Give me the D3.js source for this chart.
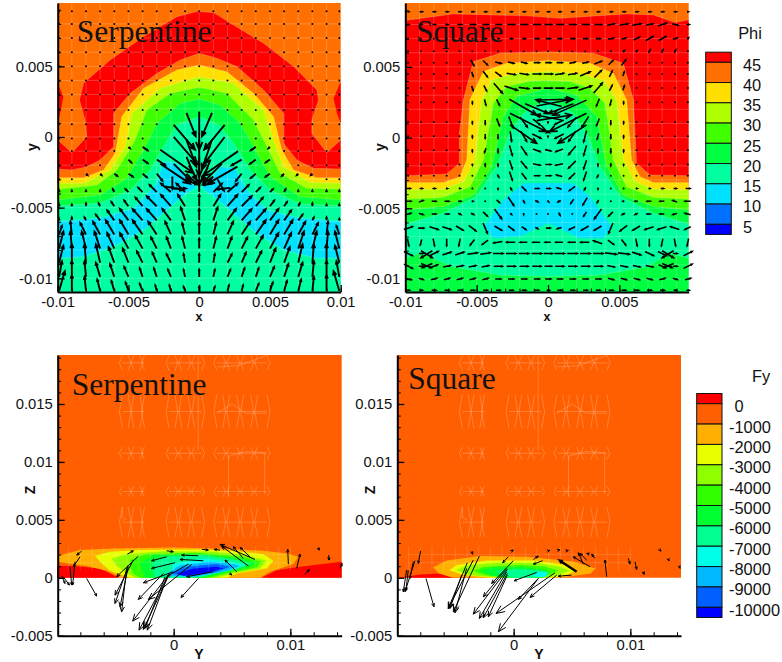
<!DOCTYPE html>
<html>
<head>
<meta charset="utf-8">
<script src="https://cdn.jsdelivr.net/npm/d3@7"></script>
<style>
  html, body { margin: 0; padding: 0; background: #fff; }
  svg { display: block; }
  text { font-family: "Liberation Sans", Arial, sans-serif; fill: #111; }
  .tick text { font-size: 14.8px; font-family: "Liberation Sans", Arial, sans-serif; fill: #111; }
  .serif { font-family: "Liberation Serif", "Times New Roman", serif; font-size: 31.5px; fill: #111; }
  .axlabel { font-size: 14px; font-weight: bold; text-anchor: middle; }
  .axlabel.low { font-size: 12.5px; }
</style>
</head>
<body>
<svg id="canvas"></svg>
<script>
// all contour and vector coordinates are in mm, the axes are in metres
const phiColors = ["#ff0000", "#ff7000", "#ffdf00", "#afff00", "#3fff00", "#00ff40", "#00ffa0", "#00e0ff", "#0070ff", "#0000ff"];
const phiLevels = [45, 40, 35, 30, 25, 20, 15, 10, 5];
const phiEdges = [47.5, 45, 40, 35, 30, 25, 20, 15, 10, 5, 2.5];
const fyColors = ["#ff0000", "#ff5f00", "#ffaf00", "#e8ff00", "#8fff00", "#30ff00", "#00ff30", "#00ff90", "#00ffe8", "#00b8ff", "#0060ff", "#0000ff"];
const fyLevels = [0, -1000, -2000, -3000, -4000, -5000, -6000, -7000, -8000, -9000, -10000];
const fyEdges = [500, 0, -1000, -2000, -3000, -4000, -5000, -6000, -7000, -8000, -9000, -10000, -10500];

const topTicksY = [-0.01, -0.005, 0, 0.005];
const topTicksX1 = [-0.01, -0.005, 0, 0.005, 0.01];
const topTicksX2 = [-0.01, -0.005, 0, 0.005];
const botTicksY = [-0.005, 0, 0.005, 0.01, 0.015];
const botTicksX = [0, 0.01];

// Phi contours, serpentine. Each line is the upper edge of a level, filled down to the floor
const serpRedPatchL = [[-10, 3.8], [-9.6, 2.85], [-9.82, 1.67], [-10, 0.97]];
const serpRedPatchR = [[10, 3.9], [9.5, 2.74], [9.73, 1.67], [10, 0.97]];
const serpRed = [[-10, -0.21], [-9, -1.11], [-7.94, 0.02], [-8.06, 1.2], [-8.46, 2.62], [-8.17, 3.8], [-6.29, 5.45], [-3.93, 7.1], [-1.58, 8.51], [-0.16, 8.87], [1.01, 8.8], [2.43, 7.92], [4.55, 6.63], [6.67, 4.98], [8.32, 3.33], [8.43, 2.62], [7.96, 1.2], [7.96, 0.26], [9.02, -1.11], [10, -0.21]];
const serpOrange = [[-10, -2.26], [-9, -2.33], [-7.94, -2.1], [-7, -1.63], [-6.05, -0.68], [-6.05, 1.67], [-4.88, 3.09], [-2.99, 4.5], [-1.34, 5.45], [0, 5.92], [1.25, 5.57], [2.66, 4.98], [4.55, 3.33], [5.96, 1.67], [5.96, -0.45], [6.9, -1.63], [8.08, -2.22], [10, -2.26]];
const serpYellow = [[-10, -2.88], [-8.17, -2.88], [-6.76, -2.33], [-5.94, -1.16], [-5.47, 1.44], [-3.93, 3.44], [-1.58, 4.74], [0, 5.09], [1.96, 4.62], [3.84, 3.09], [5.25, 1.44], [5.84, -0.92], [6.67, -2.33], [8.32, -2.88], [10, -2.88]];
const serpLime = [[-10, -3.28], [-8.17, -3.28], [-6.29, -2.33], [-5.23, -0.68], [-4.76, 1.67], [-2.76, 3.44], [0, 4.27], [2.43, 3.8], [4.55, 1.91], [5.25, -0.21], [5.96, -2.1], [7.84, -3.23], [10, -3.28]];
const serpBright = [[-10, -3.7], [-7.23, -3.4], [-5.82, -2.33], [-4.64, -0.45], [-3.7, 1.91], [-2.05, 3.09], [0, 3.51], [1.96, 3.09], [3.84, 1.2], [4.78, -0.68], [5.72, -2.57], [7.61, -3.63], [10, -3.7]];
const serpGreen = [[-10, -4.46], [-7, -4.1], [-5.11, -2.92], [-3.93, -0.92], [-2.99, 0.97], [-1.34, 2.38], [0, 2.69], [1.48, 2.26], [2.9, 0.97], [3.84, -0.68], [5.02, -2.81], [7.14, -4.22], [10, -4.46]];
const serpSpring = [[-10, -4.88], [-7, -4.69], [-4.88, -3.75], [-3.46, -2.33], [-2.52, -0.68], [-1.58, 0.85], [0, 1.44], [1.37, 0.85], [2.43, -0.45], [3.6, -2.33], [5.02, -3.75], [7.14, -4.74], [10, -4.88]];
const serpCyan = [[-10, -5.99], [-7, -5.75], [-4.64, -5.05], [-2.99, -3.28], [-2.57, -1.75], [-1.58, -1.86], [-0.52, -3.28], [0, -3.75], [0.66, -3.16], [1.48, -2.1], [2.54, -2.22], [3.37, -3.75], [4.78, -5.17], [7.14, -5.75], [10, -5.99]];
const serpSpringLow = [[-10, -8.58], [-8.17, -8.47], [-5.82, -7.64], [-3.93, -6.58], [-2.29, -5.17], [-0.87, -3.99], [0, -3.47], [1.01, -4.22], [2.43, -5.4], [4.08, -6.82], [5.96, -8], [8.32, -8.58], [10, -8.58]];

// Phi contours, square
const squareRed = [[-10, 8.28], [-6.64, 8.75], [-1.5, 8.61], [0.84, 8.44], [5.51, 8.75], [7.38, 8.68], [8.9, 8.14], [9.86, 8.33]];
const squareOrange = [[-10, -2.69], [-7.1, -2.57], [-6.21, -1.82], [-6.21, 0.31], [-5.93, 2.67], [-5.23, 5.38], [-3.36, 5.97], [0, 6.08], [3.18, 5.97], [5.28, 5.26], [5.98, 2.67], [6.21, -1.82], [7.15, -2.64], [9.86, -2.69]];
const squareYellow = [[-10, -3.18], [-7.34, -3.18], [-6.17, -2.76], [-5.7, -1.58], [-5.47, 2.67], [-4.53, 4.67], [-2.9, 5.26], [0, 5.45], [2.94, 5.26], [4.58, 4.55], [5.51, 2.67], [5.86, -1.58], [6.45, -2.76], [7.38, -3.18], [9.86, -3.18]];
const squareLime = [[-10, -3.7], [-7.34, -3.66], [-5.93, -3.11], [-5.12, -1.58], [-4.65, 2.67], [-3.95, 4.08], [-2.2, 4.55], [0, 4.67], [2.24, 4.5], [3.88, 4.08], [4.81, 2.67], [5.28, -1.58], [6.1, -3.11], [7.38, -3.66], [9.86, -3.7]];
const squareBright = [[-10, -4.36], [-7.34, -4.22], [-5.47, -3.47], [-4.53, -1.58], [-3.83, 2.43], [-2.9, 3.61], [-1.26, 4.01], [0, 4.03], [1.54, 3.96], [2.94, 3.49], [4, 2.43], [4.58, -1.58], [5.51, -3.47], [7.38, -4.22], [9.86, -4.36]];
const squareGreen = [[-10, -5.12], [-7.34, -4.88], [-5.23, -4.06], [-3.95, -2.05], [-3.13, 1.49], [-2.2, 2.9], [0, 3.49], [2.01, 3.02], [3.41, 1.49], [4.11, -2.05], [5.28, -4.06], [7.38, -4.88], [9.86, -5.12]];
const squareSpring = [[-10, -6.11], [-7.34, -5.35], [-5, -4.17], [-3.6, -2.05], [-2.66, 0.31], [-1.73, 1.72], [0, 2.78], [1.78, 1.72], [2.71, 0.31], [3.64, -2.05], [5.05, -4.17], [7.38, -5.35], [9.86, -6.11]];
const squareCyan = [[-1.73, -3.23], [1.78, -3.23], [2.94, -4.17], [4.46, -6.3], [3.88, -7.12], [2.24, -7.12], [0, -6.06], [-1.96, -7], [-3.83, -7.12], [-4.49, -6.3], [-3.13, -4.41]];
const squareGreenLow = [[-10, -8.54], [-8.97, -8.18], [-6.64, -9.13], [-3.36, -9.72], [0, -9.83], [3.64, -9.72], [6.92, -9.13], [8.55, -8.18], [9.86, -8.54]];

// Fy contours, closed outlines
const fySerpRedL = [[-10, 1.01], [-8.6, 1.01], [-6.31, 0.81], [-4.74, 0], [-10, 0]];
const fySerpRedR = [[7.54, 0], [8.83, 0.66], [10.83, 0.95], [14.4, 1.38], [14.4, 0]];
const fySerpAmber = [[-10, 1.87], [-8.03, 2.39], [-5.17, 2.53], [0, 2.62], [4.83, 2.48], [7.69, 2.33], [9.69, 2.1], [10.69, 1.81], [10.26, 1.18], [8.26, 0.52], [7.4, 0], [-4.46, 0], [-5.74, 0.6], [-7.46, 1.01], [-10, 1.38]];
const fySerpYellow = [[-6.74, 1.87], [-5.46, 2.25], [-2.89, 2.39], [1.97, 2.45], [5.4, 2.3], [7.69, 2.04], [8.54, 1.47], [7.97, 0.81], [5.4, 0.37], [4.54, 0], [-3.74, 0], [-5.46, 0.6], [-6.17, 1.24]];
const fySerpLime = [[-5.31, 1.67], [-4.03, 2.04], [-0.89, 2.3], [3.4, 2.25], [6.26, 1.96], [7.97, 1.47], [7.4, 0.81], [5.11, 0.37], [3.69, 0], [-3.31, 0], [-4.17, 0.52], [-4.89, 1.01]];
const fySerpBright = [[-3.74, 1.53], [-2.31, 2.04], [1.97, 2.16], [5.97, 1.81], [7.54, 1.38], [7.11, 0.89], [4.83, 0.46], [3.11, 0], [-2.89, 0], [-3.46, 0.37], [-3.74, 0.95]];
const fySerpGreen = [[-2.89, 1.24], [-1.74, 1.96], [1.97, 2.04], [5.69, 1.67], [7.11, 1.3], [6.26, 0.81], [4.54, 0.52], [2.54, 0], [-2.46, 0]];
const fySerpSpring = [[-1.89, 1.24], [-0.89, 1.81], [2.54, 1.96], [5.4, 1.53], [6.54, 1.24], [5.4, 0.72], [3.11, 0.37], [1.69, 0], [-1.6, 0]];
const fySerpCyan = [[-0.03, 1.24], [2.54, 1.67], [4.83, 1.38], [6.11, 1.09], [4.83, 0.66], [2.26, 0.09], [-0.31, 0.09]];
const fySerpAzure = [[-0.6, 0.37], [0.54, 1.09], [3.11, 1.38], [5.11, 1.18], [5.69, 1.01], [4.54, 0.6], [1.97, 0.09], [-0.17, 0.14]];
const fySerpBlue = [[-0.31, 0.37], [1.11, 0.95], [3.69, 1.18], [4.83, 0.95], [3.69, 0.52], [1.11, 0.14]];
const fySerpDark = [[0.26, 0.37], [1.69, 0.81], [3.69, 0.95], [4.26, 0.81], [2.54, 0.37], [0.83, 0.17]];

const fySqRed = [[-10, 0], [-8, 0.29], [-6.3, 0.37], [-4.9, 0.14], [-3.2, 0]];
const fySqAmber = [[-6.9, 0.9], [-5.7, 1.5], [-2.9, 1.87], [1.1, 1.81], [5.1, 1.4], [7, 0.81], [6.6, 0.37], [4, 0], [-5.2, 0], [-6.4, 0.37]];
const fySqYellow = [[-5.5, 0.66], [-4.9, 1.1], [-2.3, 1.5], [1.7, 1.5], [4.5, 1.1], [5.4, 0.66], [4.5, 0.23], [3.4, 0], [-2, 0], [-4.3, 0.23]];
const fySqLime = [[-4.9, 0.66], [-4, 1.05], [-1.5, 1.3], [2, 1.3], [4, 0.95], [4.8, 0.6], [3.8, 0.25], [3, 0], [-1.2, 0], [-3.8, 0.25]];
const fySqBright = [[-3.5, 0.6], [-2.5, 0.95], [0.5, 1.1], [2.5, 1], [3.8, 0.65], [3, 0.25], [2.4, 0], [-0.5, 0], [-2.5, 0.25]];
const fySqGreen = [[-2.9, 0.63], [-1.7, 0.9], [1, 0.9], [3, 0.65], [2.4, 0.25], [2, 0], [-0.3, 0], [-2, 0.2]];
const fySqSpring = [[-1.5, 0.6], [0.3, 0.75], [2, 0.65], [2.8, 0.5], [2.2, 0.1], [1.5, 0], [0, 0], [-1, 0.2]];
const fySqCyan = [[1.6, 0.2], [2.2, 0.55], [3, 0.45], [2.8, 0.1], [2.2, 0.02]];

// faint mesh lines showing through the fills
const meshTopX = [-9, -8, -7, -6, -5, -4, -3, -2, -1, 0, 1, 2, 3, 4, 5, 6, 7, 8, 9];
const meshTopY = [8, 7, 6, 5, 4, 3, 2, 1, 0, -1, -2, -3, -4, -5, -6, -7, -8, -9, -10];
const meshBlocksX = [[-4.4, -3.9, -3.4, -2.9, -2.5], [-0.4, 0.1, 0.7, 1.2, 1.8, 2.4], [3.7, 4.2, 4.8, 5.4, 6, 6.6, 7.2, 8]];
const meshBlocksZ = [[17.9, 19.2], [12.9, 15.8], [10.2, 11.3], [7, 7.9], [3.5, 6.1]];
const meshBandX = [-9, -8, -7, -6, -5, -4, -3, -2, -1, 0, 1, 2, 3, 4, 5, 6, 7, 8, 9, 10];
const meshExtra = [
  [[2.1, 19.2], [2.1, 11]], [[4.7, 10.5], [4.7, 7]], [[7.8, 10.8], [7.8, 7.2]], [[4.7, 10.5], [6.2, 10.9], [7.8, 10.8]],
  [[3.7, 18.2], [5.5, 18.3], [8, 19.2]], [[3.7, 14.2], [5, 15], [6.2, 14.2], [8, 14.2]], [[-4.4, 6.1], [-4.4, 5.2], [-4, 5]]
];

// serpentine vectors
const serpCols = [-9.9, -9, -8, -7, -6, -5, -4, -3, -2, -1, 0, 1, 2, 3, 4, 5, 6, 7, 8, 9, 9.9];
const serpDots = [
  [8.9, serpCols], [8, serpCols], [7, serpCols], [6, serpCols], [5, serpCols], [4, serpCols], [3, serpCols],
  [1.9, [-9.9, -9, -8, -7, -6, -5, -4, -3, -2, 2, 3, 4, 5, 6, 7, 8, 9, 9.9]],
  [0.9, [-9.9, -9, -8, -7, -6, -5, -4, -3, 3, 4, 5, 6, 7, 8, 9, 9.9]],
  [-0.1, [-9.9, -9, -8, -7, -6, -5, -4, 4, 5, 6, 7, 8, 9, 9.9]],
  [-1, [-9.9, -9, -8, -7, -6, 6, 7, 8, 9, 9.9]],
  [-2, [-9.9, -9, -8, -7, 7, 8, 9, 9.9]],
  [-3, [-9.9, -9, 9, 9.9]]
];
// [y, per column dx, dy in tenths of a mm]
const serpRows = [
  [-10.9, [[4,14],[0,11],[-1,10],[-2,8],[-2,7],[-2,6],[-2,5],[-1,4],[-1,4],[-1,3],[0,3],[1,3],[1,4],[1,4],[2,5],[2,6],[2,7],[2,8],[1,10],[0,11],[-4,14]]],
  [-9.9, [[2,11],[0,11],[-1,11],[-3,10],[-3,9],[-3,7],[-2,6],[-2,6],[-2,5],[-1,5],[0,5],[1,5],[2,5],[2,6],[2,6],[3,7],[3,9],[3,10],[1,11],[0,11],[-2,11]]],
  [-8.9, [[3,12],[0,13],[-1,13],[-3,13],[-4,11],[-4,10],[-4,8],[-3,7],[-3,6],[-1,6],[0,6],[1,6],[3,6],[3,7],[4,8],[4,10],[4,11],[3,13],[1,13],[0,13],[-3,12]]],
  [-7.9, [[3,12],[-1,12],[-3,12],[-4,12],[-5,11],[-6,11],[-5,9],[-4,8],[-3,8],[-2,8],[0,7],[2,8],[3,8],[4,8],[5,9],[6,11],[5,11],[4,12],[3,12],[1,12],[-3,12]]],
  [-6.9, [[2,6],[-1,9],[-4,8],[-5,9],[-6,10],[-6,10],[-7,10],[-6,9],[-4,9],[-2,8],[0,8],[2,8],[4,9],[6,9],[7,10],[6,10],[6,10],[5,9],[4,8],[1,9],[-2,6]]],
  [-5.9, [[0,1],[0,2],[-1,2],[-3,4],[-5,7],[-6,8],[-7,8],[-7,8],[-6,8],[-3,9],[0,8],[3,9],[6,8],[7,8],[7,8],[6,8],[5,7],[3,4],[1,2],[0,2],[0,1]]],
  [-4.9, [[0,1],[0,1],[0,2],[-1,2],[-2,3],[-3,4],[-5,6],[-7,7],[-7,8],[-5,8],[0,8],[5,8],[7,8],[7,7],[5,6],[3,4],[2,3],[1,2],[0,2],[0,1],[0,1]]],
  [-3.9, [[0,1],[0,1],[0,1],[0,1],[-1,2],[-2,2],[-3,3],[-5,5],[-7,6],[-6,6],[0,5],[6,6],[7,6],[5,5],[3,3],[2,2],[1,2],[0,1],[0,1],[0,1],[0,1]]]
];
// [x, y, dx, dy] in mm
const serpShort = [
  [-5, -0.7, 0.1, -0.1], [-4, -0.7, 0.35, -0.25], [4, -0.7, -0.35, -0.25], [5, -0.7, -0.1, -0.1],
  [-5, -1.6, 0.2, -0.2], [-4, -1.6, 0.35, -0.25], [-3, -1.6, 0.6, -0.4], [3, -1.6, -0.7, -0.4], [4, -1.6, -0.4, -0.3], [5, -1.6, -0.3, -0.2],
  [-8, -2.6, 0.1, -0.1], [-7, -2.6, 0.1, -0.1], [-6, -2.6, 0.2, -0.15], [-5, -2.6, 0.3, -0.2], [-4, -2.6, 0.3, -0.25], [-3, -2.6, 0.4, -0.5],
  [3, -2.6, -0.4, -0.5], [4, -2.6, -0.35, -0.3], [5, -2.6, -0.3, -0.2], [6, -2.6, -0.15, -0.15], [7, -2.6, -0.1, -0.1], [8, -2.6, -0.1, -0.1]
];
const serpLong = [
  [-0.9, 1.7, 0.65, -1.65], [0, 1.8, 0, -2.7], [0.9, 1.7, -0.7, -1.65], [-1.8, 0.85, 1.5, -1.75], [1.8, 0.85, -1.45, -1.75],
  [-2.75, -0.9, 2.35, -1.65], [-1.8, 0, 1.65, -1.9], [-0.9, -0.2, 0.7, -1.9], [0, -0.2, 0, -2.6], [0.9, -0.2, -0.7, -2.1], [1.8, 0, -1.45, -1.9], [2.75, -1, -2.5, -1.75],
  [-2.75, -1.9, 2.1, -1.4], [-1.8, -1.9, 1.2, -1.2], [-0.9, -1.4, 0.7, -1.65], [0, -1.4, 0, -2], [0.8, -1.6, -0.6, -1.5], [1.6, -1.9, -1.3, -1.3], [2.7, -2.1, -2.1, -1.2],
  [-1.9, -2.8, 0, -0.85], [-1.9, -3.65, 0.95, 0], [-2.4, -3.5, 1.25, -0.25], [2.2, -3.6, -0.95, -0.1], [1.3, -3, 0.45, -0.8],
  [-0.9, -2.6, 0.7, -0.7], [1, -2.8, -0.7, -0.5], [-1.1, -3, 0.95, -0.35], [1, -3.3, -0.7, -0.1]
];

// square vectors, drawn centred on the grid point
const squareCols = [-9.8, -8.9, -8, -7.1, -6.2, -5.3, -4.4, -3.5, -2.6, -1.7, -0.8, 0, 0.8, 1.7, 2.6, 3.5, 4.4, 5.3, 6.2, 7.1, 8, 8.9, 9.8];
const squareRows = [
  [8.9, [[1,0],[2,0],[2,0],[2,0],[2,0],[2,0],[2,0],[2,0],[2,0],[2,0],[2,0],[2,0],[2,0],[2,0],[2,0],[2,0],[2,0],[2,0],[2,0],[2,0],[2,0],[2,0],[1,0]]],
  [8, [[1,0],[1,0],[2,0],[2,0],[3,0],[4,0],[4,0],[4,0],[5,0],[5,0],[5,0],[5,0],[5,0],[5,0],[5,0],[5,0],[5,1],[6,1],[6,1],[5,1],[6,2],[4,-1],[2,0]]],
  [7, [[0,0],[0,0],[0,0],[0,0],[0,0],[0,0],[1,0],[1,0],[2,0],[2,0],[3,0],[3,0],[3,0],[3,0],[3,0],[3,0],[4,1],[3,1],[4,2],[5,3],[5,3],[3,1],[1,1]]],
  [6.1, [[0,0],[0,0],[0,0],[0,0],[0,0],[0,0],[0,0],[0,0],[0,0],[0,0],[0,0],[0,0],[0,0],[0,0],[0,0],[0,0],[0,0],[1,1],[1,1],[1,2],[1,2],[1,2],[0,0]]],
  [5.3, [[0,0],[0,0],[0,0],[0,0],[0,0],[2,-4],[3,-3],[4,-1],[4,-1],[4,-1],[4,0],[4,0],[4,0],[4,1],[4,1],[5,2],[3,3],[3,4],[0,0],[0,0],[0,0],[0,0],[0,0]]],
  [4.5, [[0,0],[0,0],[0,0],[0,0],[0,0],[1,-3],[3,-4],[4,-3],[6,-1],[6,-1],[6,0],[6,0],[6,1],[6,1],[7,3],[5,5],[2,4],[1,3],[0,0],[0,0],[0,0],[0,0],[0,0]]],
  [3.5, [[0,0],[0,0],[0,0],[0,0],[0,0],[1,-3],[2,-4],[6,-7],[9,-3],[7,-1],[5,0],[6,0],[6,0],[7,1],[9,3],[6,7],[2,4],[1,3],[0,0],[0,0],[0,0],[0,0],[0,0]]],
  [2.5, [[0,0],[0,0],[0,0],[0,0],[0,0],[0,-2],[1,-4],[2,-4],null,null,null,null,null,null,null,[-2,-5],[-1,-4],[0,-2],[0,0],[0,0],[0,0],[0,0],[0,0]]],
  [1.1, [[0,0],[0,0],[0,0],[0,0],[0,0],[0,-2],[0,-3],[2,-5],[3,-8],[5,-7],[5,-4],[0,-1],[-6,-3],[-6,-7],[-5,-8],[-2,-5],[0,-3],[0,-2],[0,0],[0,0],[0,0],[0,0],[0,0]]],
  [0.1, [[0,0],[0,0],[0,0],[0,0],[0,0],[0,-2],[0,-3],[0,-3],[1,-7],[4,-7],[6,-3],[0,-1],[-6,-3],[-5,-7],[-2,-8],[-1,-4],[0,-3],[0,-2],[0,0],[0,0],[0,0],[0,0],[0,0]]],
  [-0.9, [[0,0],[0,0],[0,0],[0,0],[0,0],[0,-2],[-1,-3],[0,-3],[2,-7],[4,-6],[5,-2],[4,-1],[-5,-2],[-5,-6],[-2,-7],[0,-3],[0,-3],[0,-2],[0,0],[0,0],[0,0],[0,0],[0,0]]],
  [-1.9, [[0,0],[0,0],[0,0],[0,0],[0,0],[0,-1],[0,-2],[0,-2],[2,-6],[4,-5],[5,-1],[4,0],[-5,-1],[-5,-5],[-2,-6],[0,-2],[0,-2],[0,-1],[0,0],[0,0],[0,0],[0,0],[0,0]]],
  [-2.7, [[0,0],[0,0],[0,0],[0,0],[0,0],[0,0],[0,0],[1,-2],[2,-6],[3,-4],[4,0],[4,0],[-4,1],[-4,-4],[-2,-6],[-1,-2],[0,0],[0,0],[0,0],[0,0],[0,0],[0,0],[0,0]]],
  [-3.6, [[3,0],[2,0],[2,0],[1,0],[1,0],[0,0],[0,0],[0,-1],[1,-2],[3,-3],[3,0],[3,0],[-3,1],[-4,-3],[-1,-2],[0,-1],[0,0],[0,0],[1,0],[1,0],[2,0],[2,0],[3,0]]],
  [-4.5, [[4,0],[3,1],[3,0],[3,0],[2,0],[1,0],[0,0],[2,-2],[4,-6],[1,-2],[2,-1],[1,-1],[-2,-1],[-2,-3],[-3,-5],[-1,-2],[0,0],[-1,0],[-2,0],[-3,0],[-3,0],[-3,1],[-4,0]]],
  [-5.4, [[4,1],[3,-1],[3,0],[3,0],[2,-1],[2,-1],[3,-3],[5,-7],[1,-1],[0,-1],[0,0],[0,0],[1,-2],[0,0],[-2,-3],[-5,-7],[-3,-3],[-2,-1],[-2,-1],[-3,0],[-3,0],[-3,-1],[-4,1]]],
  [-6.4, [[6,2],[4,0],[6,-2],[6,-2],[5,-3],[5,-4],[3,-7],[5,-3],[4,-3],[3,-2],[2,-1],[3,0],[-3,-1],[-4,-2],[-5,-3],[-5,-3],[-3,-7],[-5,-4],[-5,-3],[-6,-2],[-6,-2],[-6,2],[-4,-2]]],
  [-7.4, [[1,-5],[-1,-4],[1,-5],[0,-5],[-1,-5],[-3,-4],[-4,-3],[-6,-1],[-6,0],[-5,0],[-5,0],[-4,0],[-5,0],[-5,0],[-6,0],[-6,2],[4,-3],[3,-4],[1,-5],[0,-5],[-1,-5],[1,-5],[-1,-5]]],
  [-8.2, [[6,-3],[3,0],[6,3],[6,2],[6,2],[7,1],[7,1],[7,0],[7,0],[7,0],[7,0],[6,0],[7,0],[7,0],[7,0],[7,0],[8,-1],[8,-1],[6,-2],[6,-3],[6,-3],[3,0],[6,3]]],
  [-9.1, [[6,-3],[3,0],[5,2],[5,1],[5,1],[5,1],[5,1],[6,0],[6,0],[6,0],[6,0],[5,0],[6,0],[6,0],[6,0],[6,0],[5,-1],[5,-1],[5,-1],[5,-1],[5,-2],[3,0],[6,3]]],
  [-10, [[4,-1],[3,-1],[4,1],[4,1],[4,1],[4,1],[4,1],[4,0],[4,0],[4,0],[4,0],[4,0],[4,0],[4,0],[4,0],[4,0],[4,-1],[4,-1],[4,-1],[4,-1],[4,1],[3,-1],[4,1]]],
  [-10.8, [[2,0],[2,0],[3,0],[3,0],[3,0],[3,0],[3,0],[3,0],[3,0],[3,0],[3,0],[2,0],[3,0],[3,0],[3,0],[3,0],[3,0],[3,0],[3,0],[3,0],[3,0],[2,0],[2,0]]]
];
// tail x, tail y, dx, dy in mm
const squareLong = [
  [-2.71, 2.71, 1.92, -1.11], [2.7, 2.65, -2.36, -1.06], [-2.66, 1.72, 2.57, -1.3], [2.7, 1.72, -2.6, -1.3],
  [-0.84, 2.66, 2.6, 0.05], [-0.8, 2.24, 2.45, 0.47], [0.96, 2.2, -1.8, 0.47], [-0.8, 1.2, 2.45, 0.4], [0.96, 1.25, -1.8, 0.35],
  [-1.6, 2.4, 1.63, -0.7], [1.78, 2.4, -1.75, -0.7], [-2.66, 0.9, 1.87, -1.3], [2.7, 0.9, -2, -1.3],
  [-0.1, 0.5, 0.2, -0.15], [0.1, 0.5, -0.2, -0.15], [-8.9, -8, 0.8, -0.5], [-8.1, -8, -0.8, -0.5], [-8.9, -8.9, 0.7, -0.3], [-8.1, -8.9, -0.7, -0.3],
  [8, -8, 0.8, -0.5], [8.8, -8, -0.8, -0.5], [8, -8.9, 0.7, -0.3], [8.8, -8.9, -0.7, -0.3]
];

// Fy vectors: tail x, tail z, head x, head z, in mm
const fySerpVectors = [
  [-9.6,0.14,-9.31,-0.49],[-9.46,0.09,-8.94,-0.63],[-8.89,0.95,-8.74,-0.63],[-8.46,1.38,-8.66,-0.63],[-8.03,1.81,-8.6,0.95],[-7.89,2.3,-8.31,1.96],
  [-7.46,-0.06,-6.6,-1.58],[-3.03,1.87,-4.89,0.09],[-3.46,1.53,-5.03,-1.5],[-3.89,1.09,-5.03,-2.22],[-3.89,0.95,-4.6,-2.5],[-4.03,0.81,-4.46,-2.94],[-3.97,2.04,-3.46,2.33],
  [-0.03,0.52,-2.6,-0.43],[-0.89,0.37,-3.03,-1.87],[-0.46,0.23,-3.51,-3.74],[-0.46,0.23,-2.97,-4.52],[-0.46,0.14,-2.6,-4.46],[-0.54,0.09,-2.26,-4.52],[-0.74,0.09,-2.46,-4.37],
  [2.11,-0.06,0.63,-1.7],[1.54,1.15,-2.17,-1.87],[-0.6,1.81,-1.89,1.47],[2.11,1.9,0.69,1.96],[0.11,1.3,-1.89,0.81],[2.54,1.47,0.54,1.58],[1.26,1.18,-0.54,0.14],[3.4,0.52,1.11,0.09],
  [4.83,0.37,4.97,0.23],[2.43,2.45,2.97,2.39],[3.97,2.39,3.46,2.45],[-0.6,2.33,-0.03,2.25],[6.97,1.58,3.97,2.88],[6.4,1.01,4.11,2.73],[5.4,0.52,4.4,1.53],[5.97,1.67,5.11,2.68],[6.54,1.81,5.69,2.62],
  [9.83,1.18,9.77,2.45],[10.54,0.81,10.83,2.04],[11.26,0.29,11.63,0.72],[12.4,2.53,12.49,2.39],[13.29,1.96,13.31,1.53],[14.26,0.81,14.43,1.24]
];
const fySqVectors = [
  [-9.17,0.66,-9.46,-1.21],[-9.03,0.66,-9.23,-1.07],[-8.6,1.38,-8.89,-0.06],[-8.46,1.47,-9.31,-1.21],[-7.97,2.33,-8.17,1.24],[-7.51,-0.06,-6.83,-2.5],
  [-3.97,1.3,-5.6,-2.65],[-3.46,1.53,-5.6,-2.65],[-2.94,1.87,-5.17,-2.94],[-4.03,0.81,-5.03,-3.02],[-4.46,0.23,-5.46,-2.65],[-3.6,2.25,-3.51,2.04],
  [-0.03,1.47,-1.89,-0.49],[-0.6,0.81,-2.6,-1.64],[-0.54,0.72,-3.46,-3.14],[-0.6,0.52,-2.94,-3.51],[-0.54,0.37,-2.6,-3.45],[-0.54,0.23,-2.17,-3.37],[-0.17,2.3,-0.03,2.39],[-0.46,1.81,-0.94,1.3],
  [1.97,0.46,0.03,-0.26],[2.11,-0.06,0.4,-1.87],[3.54,0.43,-1.51,-3.08],[3.69,0.23,1.4,-1.7],[2.11,-0.06,-1.31,-4.66],[1.69,1.58,2.11,1.87],[2.49,1.47,1.69,1.18],[4.97,0.23,3.83,0.14],
  [6.54,0.95,5.11,1.81],[5.97,1.18,5.54,2.16],[6.26,1.53,5.69,2.1],[6.97,1.67,6.69,2.04],[6.49,2.04,6.26,2.1],[7.97,0.09,7.83,1.53],[9.83,1.67,9.97,1.18],[10.4,1.38,10.54,0.72],[11.11,0.52,11.17,0.29],
  [2.97,2.33,3.1,2.36],[3.83,2.39,3.96,2.42],[4.54,2.33,4.68,2.36],[12.54,2.39,12.62,2.3],[13.26,1.58,13.31,1.45],[14.2,0.95,14.25,0.82]
];
const fySqThick = [[5.4, 0.52, 3.97, 1.47]];

const width = 782;
const height = 662;
const svg = d3.select("#canvas").attr("width", width).attr("height", height);

function makePanel(xDomain, xRange, yDomain, yRange) {
  const x = d3.scaleLinear().domain(xDomain).range(xRange);
  const y = d3.scaleLinear().domain(yDomain).range(yRange);
  const g = svg.append("g");
  return {
    x, y, g,
    line: d3.line().x(d => x(d[0] / 1000)).y(d => y(d[1] / 1000)),
    xMin: xDomain[0] * 1000, xMax: xDomain[1] * 1000, yMin: yDomain[0] * 1000, yMax: yDomain[1] * 1000
  };
}

function fillDown(p, edge, color) {
  p.g.append("path")
    .attr("d", p.line(edge.concat([[edge[edge.length - 1][0], p.yMin], [edge[0][0], p.yMin]])) + "Z")
    .attr("fill", color)
    .attr("stroke", "rgba(255,255,255,0.3)")
    .attr("stroke-width", 0.6);
}

function fillClosed(p, outline, color) {
  p.g.append("path")
    .attr("d", p.line(outline) + "Z")
    .attr("fill", color);
}

function drawMeshTop(p) {
  const mesh = p.g.append("g").attr("stroke", "rgba(255,255,255,0.2)").attr("stroke-width", 1);
  mesh.selectAll("line.v").data(meshTopX.filter(v => v < p.xMax)).join("line").attr("class", "v")
    .attr("x1", d => p.x(d / 1000)).attr("x2", d => p.x(d / 1000))
    .attr("y1", p.y(p.yMin / 1000)).attr("y2", p.y(p.yMax / 1000));
  mesh.selectAll("line.h").data(meshTopY).join("line").attr("class", "h")
    .attr("y1", d => p.y(d / 1000)).attr("y2", d => p.y(d / 1000))
    .attr("x1", p.x(p.xMin / 1000)).attr("x2", p.x(p.xMax / 1000));
}

function drawMeshBottom(p) {
  const mesh = p.g.append("g").attr("stroke", "rgba(255,255,255,0.27)").attr("stroke-width", 0.8).attr("fill", "none");
  meshBlocksZ.forEach(z => {
    meshBlocksX.forEach(xs => {
      xs.forEach((v, i) => {
        const lean = i % 2 ? 0.25 : -0.25;
        mesh.append("path").attr("d", p.line([[v, z[0]], [v + lean, (z[0] + z[1]) / 2], [v, z[1]]]));
      });
      mesh.append("path").attr("d", p.line([[xs[0], (z[0] + z[1]) / 2], [xs[xs.length - 1], (z[0] + z[1]) / 2]]));
    });
  });
  meshExtra.forEach(d => mesh.append("path").attr("d", p.line(d)));
  const band = p.g.append("g").attr("stroke", "rgba(255,255,255,0.18)").attr("stroke-width", 0.8).attr("fill", "none");
  meshBandX.forEach(v => {
    band.append("path").attr("d", p.line([[v, 0.6], [v, 2.7]]));
  });
  band.append("path").attr("d", p.line([[-9, 2], [10, 2]]));
  band.append("path").attr("d", p.line([[-9, 1.3], [10, 1.3]]));
}

// one vector: shaft and an open head sized from its length, in pixels
function arrowPath(x0, y0, x1, y1, headScale, headMin) {
  const len = Math.hypot(x1 - x0, y1 - y0);
  const path = d3.path();
  path.moveTo(x0, y0);
  path.lineTo(x1, y1);
  if (len > 0) {
    const a = Math.atan2(y1 - y0, x1 - x0);
    const h = Math.max(headMin, len * headScale);
    path.moveTo(x1 - h * Math.cos(a - 0.4), y1 - h * Math.sin(a - 0.4));
    path.lineTo(x1, y1);
    path.lineTo(x1 - h * Math.cos(a + 0.4), y1 - h * Math.sin(a + 0.4));
  }
  return path.toString();
}

function drawVectors(p, vectors, strokeW, headScale, headMin) {
  p.g.append("g").selectAll("path").data(vectors).join("path")
    .attr("d", d => arrowPath(p.x(d[0] / 1000), p.y(d[1] / 1000), p.x(d[2] / 1000), p.y(d[3] / 1000), headScale, headMin))
    .attr("fill", "none").attr("stroke", "#000").attr("stroke-width", strokeW);
}

function drawDots(p, dots) {
  p.g.append("g").selectAll("circle").data(dots).join("circle")
    .attr("cx", d => p.x(d[0] / 1000)).attr("cy", d => p.y(d[1] / 1000))
    .attr("r", 1).attr("fill", "#000");
}

function drawAxes(p, xTicks, xMinor, yTicks, yMinor, padX) {
  const fmt = d => String(d);
  const bottom = p.y.range()[0];
  const left = p.x.range()[0];
  p.g.append("g").attr("transform", `translate(0,${bottom})`)
    .call(d3.axisBottom(p.x).tickValues(xMinor).tickSize(-3.5).tickSizeOuter(0).tickFormat(""))
    .select(".domain").remove();
  const ax = p.g.append("g").attr("transform", `translate(0,${bottom})`)
    .call(d3.axisBottom(p.x).tickValues(xTicks).tickSizeInner(-7).tickSizeOuter(0).tickPadding(padX).tickFormat(fmt));
  p.g.append("g").attr("transform", `translate(${left},0)`)
    .call(d3.axisLeft(p.y).tickValues(yMinor).tickSize(-3.5).tickSizeOuter(0).tickFormat(""))
    .select(".domain").remove();
  const ay = p.g.append("g").attr("transform", `translate(${left},0)`)
    .call(d3.axisLeft(p.y).tickValues(yTicks).tickSizeInner(-7).tickSizeOuter(0).tickPadding(5).tickFormat(fmt));
  [ax, ay].forEach(a => {
    a.select(".domain").attr("stroke-width", 2);
    a.selectAll(".tick line").attr("stroke-width", 1.3);
  });
  p.g.selectAll(".tick line").attr("stroke", "#000");
}

function label(x, y, text, rotate, low) {
  svg.append("text").attr("class", low ? "axlabel low" : "axlabel")
    .attr("transform", `translate(${x},${y})` + (rotate ? " rotate(-90)" : ""))
    .text(text);
}

function serif(x, y, text) {
  svg.append("text").attr("class", "serif").attr("x", x).attr("y", y).text(text);
}

function colorBar(colors, edges, levels, scale, x0, x1, textX, zeroShift) {
  const g = svg.append("g");
  g.selectAll("rect").data(colors).join("rect")
    .attr("x", x0).attr("width", x1 - x0)
    .attr("y", (d, i) => scale(edges[i]))
    .attr("height", (d, i) => scale(edges[i + 1]) - scale(edges[i]))
    .attr("fill", d => d).attr("stroke", "#111").attr("stroke-width", 1);
  g.selectAll("text").data(levels).join("text")
    .attr("x", d => textX + (d === 0 ? zeroShift : 0))
    .attr("y", d => scale(d) + 2.7)
    .attr("dy", "0.35em")
    .attr("font-size", "16.4px")
    .text(d => d);
}

const topMinor = d3.range(-10, 11).map(d => d / 1000);
const topMinor2 = d3.range(-10, 10).map(d => d / 1000);
const topMinorY = d3.range(-10, 10).map(d => d / 1000);
const botMinorX = d3.range(-8, 15, 2).map(d => d / 1000);
const botMinorY = d3.range(-5, 20).map(d => d / 1000);

// Phi, serpentine
const p1 = makePanel([-0.01, 0.01], [57.7, 340.7], [-0.01097, 0.00948], [292, 3]);
p1.g.append("rect").attr("x", 57.7).attr("y", 3).attr("width", 283).attr("height", 289).attr("fill", phiColors[1]);
fillDown(p1, serpRed, phiColors[0]);
fillClosed(p1, serpRedPatchL, phiColors[0]);
fillClosed(p1, serpRedPatchR, phiColors[0]);
[[serpOrange, 1], [serpYellow, 2], [serpLime, 3], [serpBright, 4], [serpGreen, 5], [serpSpring, 6], [serpCyan, 7], [serpSpringLow, 6]]
  .forEach(d => fillDown(p1, d[0], phiColors[d[1]]));
drawMeshTop(p1);
const serpDotPts = [];
serpDots.forEach(r => r[1].forEach(v => serpDotPts.push([v, r[0]])));
drawDots(p1, serpDotPts);
const serpVec = [];
serpRows.forEach(r => r[1].forEach((d, i) => serpVec.push([serpCols[i], r[0], serpCols[i] + d[0] / 10, r[0] + d[1] / 10])));
serpShort.concat(serpLong).forEach(d => serpVec.push([d[0], d[1], d[0] + d[2], d[1] + d[3]]));
drawVectors(p1, serpVec, 1.9, 0.22, 1.5);
drawAxes(p1, topTicksX1, topMinor, topTicksY, topMinorY, 4);

// Phi, square
const p2 = makePanel([-0.01, 0.00986], [405.3, 688.7], [-0.01092, 0.00952], [292, 3]);
p2.g.append("rect").attr("x", 405.3).attr("y", 3).attr("width", 283.4).attr("height", 289).attr("fill", phiColors[1]);
fillDown(p2, squareRed, phiColors[0]);
[[squareOrange, 1], [squareYellow, 2], [squareLime, 3], [squareBright, 4], [squareGreen, 5], [squareSpring, 6]]
  .forEach(d => fillDown(p2, d[0], phiColors[d[1]]));
fillClosed(p2, squareCyan, phiColors[7]);
fillDown(p2, squareGreenLow, phiColors[5]);
drawMeshTop(p2);
const squareVec = [];
const squareDotPts = [];
squareRows.forEach(r => r[1].forEach((d, i) => {
  if (!d) return;
  if (d[0] === 0 && d[1] === 0) { squareDotPts.push([squareCols[i], r[0]]); return; }
  squareVec.push([squareCols[i] - d[0] / 20, r[0] - d[1] / 20, squareCols[i] + d[0] / 20, r[0] + d[1] / 20]);
}));
squareLong.forEach(d => squareVec.push([d[0], d[1], d[0] + d[2], d[1] + d[3]]));
drawDots(p2, squareDotPts);
drawVectors(p2, squareVec, 1.6, 0.2, 1.5);
drawAxes(p2, topTicksX2, topMinor2, topTicksY, topMinorY, 4);

// Fy, serpentine
const p3 = makePanel([-0.00994, 0.0144], [57.7, 341.7], [-0.005, 0.01923], [635.7, 355]);
p3.g.append("path").attr("d", p3.line([[p3.xMin, 0], [p3.xMin, p3.yMax], [p3.xMax, p3.yMax], [p3.xMax, 0]]) + "Z").attr("fill", fyColors[1]);
fillClosed(p3, fySerpRedL, fyColors[0]);
fillClosed(p3, fySerpRedR, fyColors[0]);
[[fySerpAmber, 2], [fySerpYellow, 3], [fySerpLime, 4], [fySerpBright, 5], [fySerpGreen, 6], [fySerpSpring, 7], [fySerpCyan, 8], [fySerpAzure, 9], [fySerpBlue, 10], [fySerpDark, 11]]
  .forEach(d => fillClosed(p3, d[0], fyColors[d[1]]));
drawMeshBottom(p3);
drawVectors(p3, fySerpVectors, 1, 0.13, 3);
drawAxes(p3, botTicksX, botMinorX, botTicksY, botMinorY, 4);

// Fy, square
const p4 = makePanel([-0.00997, 0.01434], [397.3, 681], [-0.005, 0.01923], [635.7, 355]);
p4.g.append("path").attr("d", p4.line([[p4.xMin, 0], [p4.xMin, p4.yMax], [p4.xMax, p4.yMax], [p4.xMax, 0]]) + "Z").attr("fill", fyColors[1]);
fillClosed(p4, fySqRed, fyColors[0]);
[[fySqAmber, 2], [fySqYellow, 3], [fySqLime, 4], [fySqBright, 5], [fySqGreen, 6], [fySqSpring, 7], [fySqCyan, 8]]
  .forEach(d => fillClosed(p4, d[0], fyColors[d[1]]));
drawMeshBottom(p4);
drawVectors(p4, fySqVectors, 1, 0.13, 3);
drawVectors(p4, fySqThick, 2.4, 0.15, 3);
drawAxes(p4, botTicksX, botMinorX, botTicksY, botMinorY, 4);

// titles and axis names
serif(76.7, 41.7, "Serpentine");
serif(416, 41.7, "Square");
serif(71.7, 395, "Serpentine");
serif(408.3, 389, "Square");
label(199, 320.5, "x", false, true);
label(547, 320.5, "x", false, true);
label(37, 147, "y", true);
label(385, 147, "y", true);
label(35, 490, "Z", true);
label(375, 490, "Z", true);
label(199, 659, "Y");
label(539, 659, "Y");

// colour bars
const phiScale = d3.scaleLinear().domain([5, 45]).range([224.3, 62.3]);
const fyScale = d3.scaleLinear().domain([-10000, 0]).range([607.3, 403.7]);
colorBar(phiColors, phiEdges, phiLevels, phiScale, 705.7, 731.3, 743, 0);
colorBar(fyColors, fyEdges, fyLevels, fyScale, 696.7, 722, 729, 5.5);
svg.append("text").attr("x", 750).attr("y", 39).attr("text-anchor", "middle").attr("font-size", "16.4px").text("Phi");
svg.append("text").attr("x", 761).attr("y", 382).attr("text-anchor", "middle").attr("font-size", "16.4px").text("Fy");
</script>
</body>
</html>
